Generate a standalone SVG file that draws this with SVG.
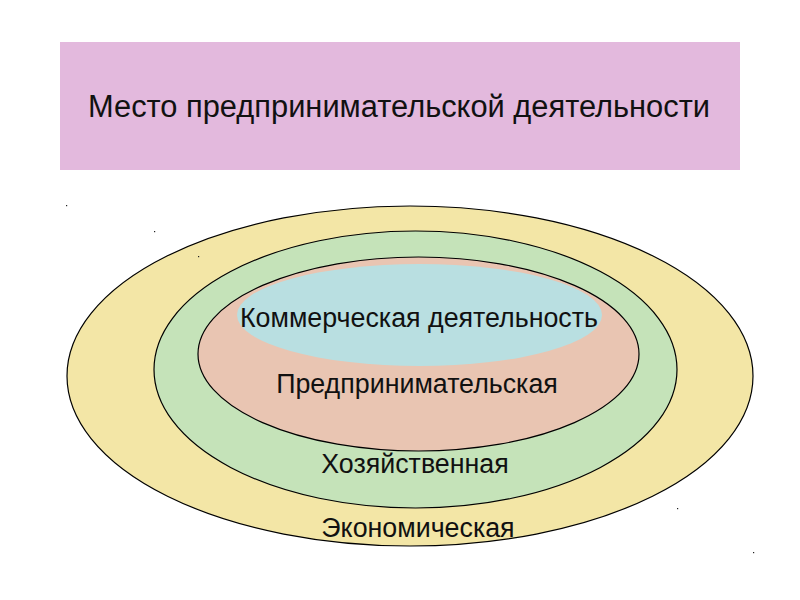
<svg xmlns="http://www.w3.org/2000/svg" width="800" height="600" viewBox="0 0 800 600">
<style>
.lbl{font-family:"Liberation Sans",Arial,sans-serif;font-size:26.8px;fill:#111;text-anchor:middle}
.ring{stroke:#000;stroke-width:1.2}
.dot{fill:#222}
</style>
<rect width="800" height="600" fill="#fff"/>
<g id="title">
<rect x="60" y="42" width="680" height="128" fill="#e3b9dd"/>
<text x="399" y="117" font-family="'Liberation Sans',Arial,sans-serif" font-size="31" fill="#111" text-anchor="middle" textLength="622" lengthAdjust="spacingAndGlyphs">Место предпринимательской деятельности</text>
</g>
<g id="economic">
<ellipse class="ring" cx="410" cy="376" rx="343" ry="170" fill="#f3e6a6"/>
</g>
<g id="economy-activity">
<ellipse class="ring" cx="415.5" cy="369.5" rx="261.5" ry="138.5" fill="#c5e3b9"/>
</g>
<g id="entrepreneurial">
<ellipse class="ring" cx="418.5" cy="354" rx="220.5" ry="97" fill="#e9c5b2"/>
</g>
<g id="commercial">
<ellipse cx="419.5" cy="315" rx="182.5" ry="51" fill="#b9dfe1"/>
<text class="lbl" x="419" y="327">Коммерческая деятельность</text>
</g>
<text class="lbl" x="417" y="393">Предпринимательская</text>
<text class="lbl" x="415" y="473">Хозяйственная</text>
<text class="lbl" x="418" y="537">Экономическая</text>
<g id="marks">
<rect class="dot" x="66" y="205" width="1.2" height="1.2"/>
<rect class="dot" x="154" y="231" width="1.2" height="1.2"/>
<rect class="dot" x="198" y="256" width="1.2" height="1.2"/>
<rect class="dot" x="677" y="508" width="1.2" height="1.2"/>
<rect class="dot" x="753" y="552" width="1.2" height="1.2"/>
</g>
</svg>
